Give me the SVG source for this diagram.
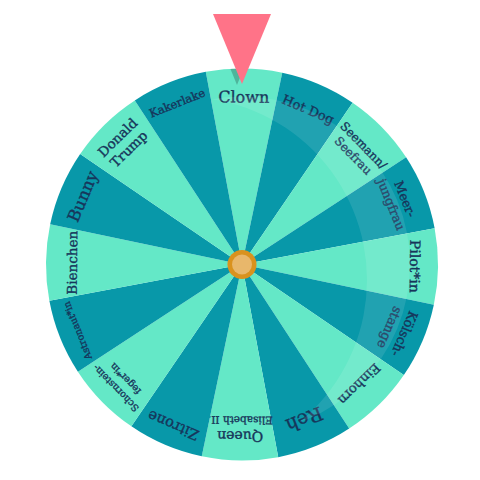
<svg xmlns="http://www.w3.org/2000/svg" width="480" height="480" viewBox="0 0 480 480">
<style>
.lt{fill:#64e8c7}
.dk{fill:#0898a9}
text{font-family:"DejaVu Serif","Liberation Serif",serif;fill:#17355a;stroke:#17355a;stroke-width:0.35;text-anchor:middle}
</style>
<defs>
<path id="w" d="M0 0 L-38.24 -192.24 A196 196 0 0 1 38.24 -192.24 Z"/>
<clipPath id="wc"><circle cx="242" cy="264.5" r="196"/></clipPath>
<mask id="bm" maskUnits="userSpaceOnUse" x="0" y="0" width="480" height="480">
<rect x="0" y="0" width="480" height="480" fill="#fff"/>
<circle cx="184" cy="280" r="183" fill="#000"/>
</mask>
</defs>
<rect width="480" height="480" fill="#fff"/>
<g transform="translate(242 264.5) rotate(0.6)">
<g id="s0"><use href="#w" class="lt"/><text font-size="16" y="-162">Clown</text></g>
<g id="s1" transform="rotate(22.5)"><use href="#w" class="dk"/><text font-size="13" y="-164">Hot Dog</text></g>
<g id="s2" transform="rotate(45)"><use href="#w" class="lt"/><text font-size="12" y="-166">Seemann/</text><text font-size="12" y="-151.5">Seefrau</text></g>
<g id="s3" transform="rotate(67.5)"><use href="#w" class="dk"/><text font-size="12.5" y="-171.5">Meer-</text><text font-size="12.5" y="-156.5">jungfrau</text></g>
<g id="s4" transform="rotate(90)"><use href="#w" class="lt"/><text font-size="14" y="-168">Pilot*in</text></g>
<g id="s5" transform="rotate(112.5)"><use href="#w" class="dk"/><text font-size="13" y="-172">Kölsch-</text><text font-size="13" y="-156">stange</text></g>
<g id="s6" transform="rotate(135)"><use href="#w" class="lt"/><text font-size="13" y="-163">Einhorn</text></g>
<g id="s7" transform="rotate(157.5)"><use href="#w" class="dk"/><text font-size="19" y="-160.5">Reh</text></g>
<g id="s8" transform="rotate(180)"><use href="#w" class="lt"/><text font-size="14" y="-167">Queen</text><text font-size="10.5" y="-152">Elisabeth II.</text></g>
<g id="s9" transform="rotate(202.5)"><use href="#w" class="dk"/><text font-size="14.5" y="-170">Zitrone</text></g>
<g id="s10" transform="rotate(225)"><use href="#w" class="lt"/><text font-size="9.5" y="-173.5">Schornstein-</text><text font-size="9.5" y="-160">feger*in</text></g>
<g id="s11" transform="rotate(247.5)"><use href="#w" class="dk"/><text font-size="9.5" y="-174">Astronaut*in</text></g>
<g id="s12" transform="rotate(270)"><use href="#w" class="lt"/><text font-size="13.5" y="-165">Bienchen</text></g>
<g id="s13" transform="rotate(292.5)"><use href="#w" class="dk"/><text font-size="16.5" y="-167.5">Bunny</text></g>
<g id="s14" transform="rotate(315)"><use href="#w" class="lt"/><text font-size="13.5" y="-173">Donald</text><text font-size="13.5" y="-157">Trump</text></g>
<g id="s15" transform="rotate(337.5)"><use href="#w" class="dk"/><text font-size="11.5" y="-170">Kakerlake</text></g>
</g>
<circle id="shine" cx="242" cy="264.5" r="168" fill="#fff" fill-opacity="0.1" mask="url(#bm)"/>
<g id="hub">
<circle cx="242" cy="264.5" r="14.5" fill="#d9921e"/>
<circle cx="242" cy="264.5" r="10" fill="#e8b76b"/>
</g>
<g id="pointer">
<polygon points="208,14 266,14 237,85" fill="#000" fill-opacity="0.22" clip-path="url(#wc)"/>
<polygon points="213,14 271,14 242,84" fill="#ff7388"/>
</g>
</svg>
